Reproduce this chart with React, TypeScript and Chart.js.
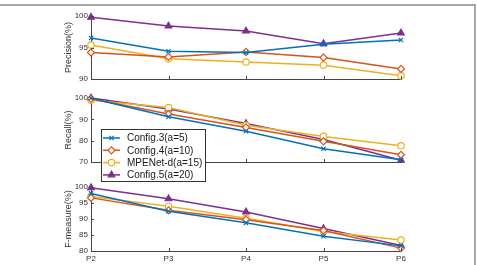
import React, { useEffect, useRef } from 'react';
import { Chart, registerables } from 'chart.js';
import { drawPoint } from 'chart.js/helpers';

Chart.register(...registerables);

const W = 477;
const H = 265;

const categories = ['P2', 'P3', 'P4', 'P5', 'P6'];
const seriesNames = ['Config.3(a=5)', 'Config.4(a=10)', 'MPENet-d(a=15)', 'Config.5(a=20)'];

const precisionConfig3 = [96.5, 94.4, 94.2, 95.5, 96.2];
const precisionConfig4 = [94.2, 93.5, 94.3, 93.4, 91.6];
const precisionMPENet = [95.4, 93.2, 92.7, 92.2, 90.5];
const precisionConfig5 = [99.8, 98.4, 97.6, 95.6, 97.3];

const recallConfig3 = [99.9, 91.2, 84.4, 76.2, 71.0];
const recallConfig4 = [99.6, 92.5, 86.2, 79.7, 73.4];
const recallMPENet = [99.0, 95.5, 87.2, 82.0, 77.6];
const recallConfig5 = [100.0, 94.8, 88.0, 80.5, 70.8];

const fmeasureConfig3 = [98.0, 92.4, 88.8, 84.6, 81.6];
const fmeasureConfig4 = [96.6, 92.7, 89.8, 86.4, 80.9];
const fmeasureMPENet = [97.0, 94.0, 90.2, 86.1, 83.4];
const fmeasureConfig5 = [99.8, 96.3, 92.2, 87.0, 81.7];

const precisionTicks = [90, 95, 100];
const recallTicks = [70, 80, 90, 100];
const fmeasureTicks = [80, 85, 90, 95, 100];

const FONT = "'Liberation Sans', Arial, Helvetica, sans-serif";
const AXIS_COLOR = '#444444';

const seriesStyles = [
  { color: '#0072BD', pointStyle: 'crossRot', radius: 3, fill: '#0072BD' },
  { color: '#D95319', pointStyle: 'rectRot', radius: 3.5, fill: '#ffffff' },
  { color: '#EDB120', pointStyle: 'circle', radius: 3.2, fill: '#ffffff' },
  { color: '#7E2F8E', pointStyle: 'triangle', radius: 3.8, fill: '#7E2F8E' },
];

const panels = [
  {
    title: 'Precision(%)',
    ticks: precisionTicks,
    series: [precisionConfig3, precisionConfig4, precisionMPENet, precisionConfig5],
    top: 16,
    bottom: 79,
    showX: false,
  },
  {
    title: 'Recall(%)',
    ticks: recallTicks,
    series: [recallConfig3, recallConfig4, recallMPENet, recallConfig5],
    top: 98,
    bottom: 162,
    showX: false,
  },
  {
    title: 'F-measure(%)',
    ticks: fmeasureTicks,
    series: [fmeasureConfig3, fmeasureConfig4, fmeasureMPENet, fmeasureConfig5],
    top: 187,
    bottom: 251,
    showX: true,
  },
];

const PLOT_LEFT = 91;
const PLOT_RIGHT = 401;
const X_AXIS_H = 14;

// Small inward tick marks on the left and bottom axes
const innerTicksPlugin = {
  id: 'innerTicks',
  afterDraw(chart: any) {
    const { ctx, chartArea, scales } = chart;
    ctx.save();
    ctx.strokeStyle = AXIS_COLOR;
    ctx.lineWidth = 1;
    ctx.beginPath();
    scales.y.ticks.forEach((t: any) => {
      const y = Math.round(scales.y.getPixelForValue(t.value)) + 0.5;
      ctx.moveTo(chartArea.left, y);
      ctx.lineTo(chartArea.left + 3, y);
    });
    categories.forEach((_, i) => {
      const x = Math.round(scales.x.getPixelForValue(i)) + 0.5;
      ctx.moveTo(x, chartArea.bottom);
      ctx.lineTo(x, chartArea.bottom - 3);
    });
    ctx.stroke();
    ctx.restore();
  },
};

// Thin frame along the top and right edges of the figure
const framePlugin = {
  id: 'figureFrame',
  beforeDraw(chart: any) {
    const { ctx } = chart;
    ctx.save();
    ctx.fillStyle = '#ffffff';
    ctx.fillRect(0, 0, W, H);
    ctx.strokeStyle = '#8a8a8a';
    ctx.lineWidth = 1.5;
    ctx.beginPath();
    ctx.moveTo(0, 5);
    ctx.lineTo(475, 5);
    ctx.lineTo(475, H);
    ctx.stroke();
    ctx.restore();
  },
};

// Boxed legend sitting over the lower-left of the recall panel
const legendPlugin = {
  id: 'boxLegend',
  afterDraw(chart: any) {
    const { ctx } = chart;
    ctx.save();
    ctx.fillStyle = '#ffffff';
    ctx.fillRect(101, 129, 105, 52);
    ctx.strokeStyle = '#333333';
    ctx.lineWidth = 1;
    ctx.strokeRect(101.5, 129.5, 104, 52);
    seriesNames.forEach((name, i) => {
      const s = seriesStyles[i];
      const y = 138 + i * 12.3;
      ctx.strokeStyle = s.color;
      ctx.lineWidth = 1.5;
      ctx.beginPath();
      ctx.moveTo(103, y);
      ctx.lineTo(120, y);
      ctx.stroke();
      ctx.fillStyle = s.fill;
      ctx.lineWidth = 1.2;
      drawPoint(ctx, { pointStyle: s.pointStyle, radius: s.radius, rotation: 0, borderWidth: 1.2 } as any, 111.5, y);
      ctx.fillStyle = '#1a1a1a';
      ctx.font = `10px ${FONT}`;
      ctx.textBaseline = 'middle';
      ctx.textAlign = 'left';
      ctx.fillText(name, 127, y + 0.5);
    });
    ctx.restore();
  },
};

function buildConfig(panelIndex: number): any {
  const p = panels[panelIndex];
  const plugins: any[] = [innerTicksPlugin];
  if (panelIndex === 0) plugins.unshift(framePlugin);
  if (panelIndex === panels.length - 1) plugins.push(legendPlugin);
  return {
    type: 'line',
    data: {
      labels: categories,
      datasets: p.series.map((values, i) => ({
        label: seriesNames[i],
        data: values,
        borderColor: seriesStyles[i].color,
        backgroundColor: seriesStyles[i].fill,
        pointBorderColor: seriesStyles[i].color,
        pointBackgroundColor: seriesStyles[i].fill,
        pointStyle: seriesStyles[i].pointStyle,
        pointRadius: seriesStyles[i].radius,
        pointBorderWidth: 1.2,
        borderWidth: 1.5,
        tension: 0,
        clip: false,
      })),
    },
    options: {
      animation: false,
      responsive: false,
      devicePixelRatio: 1,
      layout: {
        padding: {
          left: 0,
          right: W - PLOT_RIGHT,
          top: p.top,
          bottom: H - p.bottom - (p.showX ? X_AXIS_H : 0),
        },
      },
      plugins: {
        legend: { display: false },
        tooltip: { enabled: false },
      },
      scales: {
        x: {
          type: 'category',
          offset: false,
          grid: { display: false, drawTicks: false, tickLength: 0 },
          border: { display: true, color: AXIS_COLOR, width: 1 },
          ticks: {
            display: p.showX,
            color: '#333333',
            padding: 3,
            maxRotation: 0,
            font: { family: FONT, size: 8 },
          },
          afterFit: (scale: any) => {
            scale.height = p.showX ? X_AXIS_H : 0;
          },
        },
        y: {
          min: p.ticks[0],
          max: p.ticks[p.ticks.length - 1],
          grid: { display: false, drawTicks: false, tickLength: 0 },
          border: { display: true, color: AXIS_COLOR, width: 1 },
          afterBuildTicks: (scale: any) => {
            scale.ticks = p.ticks.map((v) => ({ value: v }));
          },
          ticks: {
            color: '#333333',
            padding: 3,
            font: { family: FONT, size: 8 },
          },
          title: {
            display: true,
            text: p.title,
            color: '#333333',
            font: { family: FONT, size: 9 },
            padding: { top: 63, bottom: 0 },
          },
          afterFit: (scale: any) => {
            scale.width = PLOT_LEFT;
          },
        },
      },
    },
    plugins,
  };
}

export default function App() {
  const refs = [useRef<HTMLCanvasElement>(null), useRef<HTMLCanvasElement>(null), useRef<HTMLCanvasElement>(null)];

  useEffect(() => {
    const charts = refs.map((r, i) => new Chart(r.current as HTMLCanvasElement, buildConfig(i)));
    return () => charts.forEach((c) => c.destroy());
  }, []);

  return (
    <div style={{ position: 'fixed', left: 0, top: 0, width: W, height: H, background: '#ffffff' }}>
      {refs.map((r, i) => (
        <canvas
          key={i}
          ref={r}
          width={W}
          height={H}
          style={{ position: 'absolute', left: 0, top: 0, width: W, height: H }}
        />
      ))}
    </div>
  );
}
